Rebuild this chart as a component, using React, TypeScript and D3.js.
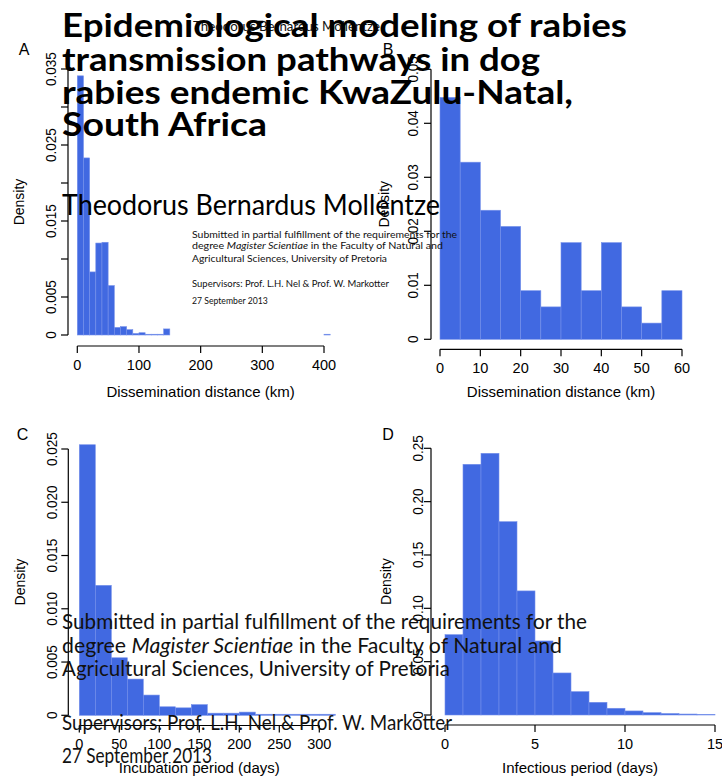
import React from "react";
import * as d3 from "d3";

// ---------- data ----------
const distanceBreaks = [0, 10, 20, 30, 40, 50, 60, 70, 80, 90, 100, 110, 120, 130, 140, 150, 160, 170, 180, 190, 200, 210, 220, 230, 240, 250, 260, 270, 280, 290, 300, 310, 320, 330, 340, 350, 360, 370, 380, 390, 400, 410, 420];
const distanceDensity = [0.0341, 0.0233, 0.0083, 0.0121, 0.0122, 0.0065, 0.0010, 0.0011, 0.0007, 0.0002, 0.0003, 0.0001, 0.0001, 0.0001, 0.0008, 0, 0, 0, 0, 0, 0, 0, 0, 0, 0, 0, 0, 0, 0, 0, 0, 0, 0, 0, 0, 0, 0, 0, 0, 0, 0.0001, 0];

const localBreaks = [0, 5, 10, 15, 20, 25, 30, 35, 40, 45, 50, 55, 60];
const localDensity = [0.0448, 0.0328, 0.0239, 0.0209, 0.0090, 0.0060, 0.0179, 0.0090, 0.0179, 0.0060, 0.0030, 0.0090];

const incubationBreaks = [0, 20, 40, 60, 80, 100, 120, 140, 160, 180, 200, 220, 240, 260, 280, 300, 320];
const incubationDensity = [0.0254, 0.0122, 0.0054, 0.0034, 0.0019, 0.0008, 0.0007, 0.0010, 0.0002, 0.0002, 0.0003, 0.0001, 0.0001, 0.0001, 0.0001, 0.0001];

const infectiousBreaks = [0, 1, 2, 3, 4, 5, 6, 7, 8, 9, 10, 11, 12, 13, 14, 15];
const infectiousDensity = [0.0753, 0.2350, 0.2453, 0.1812, 0.1163, 0.0694, 0.0394, 0.0219, 0.0119, 0.0063, 0.0038, 0.0022, 0.0014, 0.0009, 0.0005];

const xTicksA = [0, 100, 200, 300, 400];
const yTicksA = [0, 0.005, 0.01, 0.015, 0.02, 0.025, 0.03, 0.035];
const yLabelsA = ["0", "0.005", "", "0.015", "", "0.025", "", "0.035"];
const xTicksB = [0, 10, 20, 30, 40, 50, 60];
const yTicksB = [0, 0.01, 0.02, 0.03, 0.04, 0.05];
const yLabelsB = ["0", "0.01", "0.02", "0.03", "0.04", "0.05"];
const xTicksC = [0, 50, 100, 150, 200, 250, 300];
const yTicksC = [0, 0.005, 0.01, 0.015, 0.02, 0.025];
const yLabelsC = ["0", "0.005", "0.010", "0.015", "0.020", "0.025"];
const xTicksD = [0, 5, 10, 15];
const yTicksD = [0, 0.05, 0.1, 0.15, 0.2, 0.25];
const yLabelsD = ["0", "0.05", "0.10", "0.15", "0.20", "0.25"];

const titleLines = ["Epidemiological modeling of rabies", "transmission pathways in dog", "rabies endemic KwaZulu-Natal,", "South Africa"];
const authorName = "Theodorus Bernardus Mollentze";
const submissionLines = [
  [{ t: "Submitted in partial fulfillment of the requirements for the", i: false }],
  [{ t: "degree ", i: false }, { t: "Magister Scientiae", i: true }, { t: " in the Faculty of Natural and", i: false }],
  [{ t: "Agricultural Sciences, University of Pretoria", i: false }],
];
const supervisorsLine = "Supervisors: Prof. L.H. Nel & Prof. W. Markotter";
const dateLine = "27 September 2013";

// ---------- styling ----------
const RFONT = "'Liberation Sans', Arial, Helvetica, sans-serif";
const TFONT = "Lato, 'Open Sans', 'DejaVu Sans', sans-serif";
const FILL = "#4169E1";
const EDGE = "#7590ea";

function Panel(p: any) {
  const x = d3.scaleLinear().domain(p.xDomain).range(p.xRange);
  const y = d3.scaleLinear().domain(p.yDomain).range(p.yRange);
  const tick = 7;
  const yMid = (p.yRange[0] + p.yRange[1]) / 2;
  const xMid = (x(p.xTicks[0]) + x(p.xTicks[p.xTicks.length - 1])) / 2;
  return (
    <g>
      {p.density.map((d: number, i: number) => (
        <rect key={i} x={x(p.breaks[i])} y={y(d)} width={x(p.breaks[i + 1]) - x(p.breaks[i])}
          height={Math.max(0, y(0) - y(d))} fill={FILL} stroke={EDGE} strokeWidth={0.6} />
      ))}
      {/* x axis */}
      <line x1={x(p.xTicks[0])} x2={x(p.xTicks[p.xTicks.length - 1])} y1={p.axisY} y2={p.axisY} stroke="#000" strokeWidth={1.2} />
      {p.xTicks.map((t: number) => (
        <g key={t}>
          <line x1={x(t)} x2={x(t)} y1={p.axisY} y2={p.axisY + tick} stroke="#000" strokeWidth={1.2} />
          <text x={x(t)} y={p.xLabelY} textAnchor="middle" fontFamily={RFONT} fontSize={14.5}>{t}</text>
        </g>
      ))}
      <text x={xMid} y={p.xTitleY} textAnchor="middle" fontFamily={RFONT} fontSize={15}>{p.xTitle}</text>
      {/* y axis */}
      <line x1={p.axisX} x2={p.axisX} y1={y(p.yTicks[0])} y2={y(p.yTicks[p.yTicks.length - 1])} stroke="#000" strokeWidth={1.2} />
      {p.yTicks.map((t: number, i: number) => (
        <g key={i}>
          <line x1={p.axisX} x2={p.axisX - tick} y1={y(t)} y2={y(t)} stroke="#000" strokeWidth={1.2} />
          {p.yLabels[i] ? (
            <text transform={`translate(${p.yLabelX},${y(t)}) rotate(-90) scale(1,1.15)`} textAnchor="middle"
              fontFamily={RFONT} fontSize={13.5}>{p.yLabels[i]}</text>
          ) : null}
        </g>
      ))}
      <text transform={`translate(${p.densityX},${yMid}) rotate(-90) scale(1,1.1)`} textAnchor="middle"
        fontFamily={RFONT} fontSize={14}>Density</text>
      <text x={p.letter[0]} y={p.letter[1]} textAnchor="middle" fontFamily={RFONT} fontSize={16}>{p.letterText}</text>
    </g>
  );
}

function Submission(props: { x: number; ys: number[]; widths: number[]; size: number }) {
  const { x, ys, widths, size } = props;
  return (
    <g fontFamily={TFONT} fontSize={size} fill="#111">
      {submissionLines.map((line, i) => (
        <text key={i} x={x} y={ys[i]} textLength={widths[i]} lengthAdjust="spacingAndGlyphs">
          {line.map((s, j) => (
            <tspan key={j} fontStyle={s.i ? "italic" : "normal"}>{s.t}</tspan>
          ))}
        </text>
      ))}
      <text x={x} y={ys[3]} textLength={widths[3]} lengthAdjust="spacingAndGlyphs">{supervisorsLine}</text>
      <text x={x} y={ys[4]} textLength={widths[4]} lengthAdjust="spacingAndGlyphs">{dateLine}</text>
    </g>
  );
}

export default function App() {
  const titleYs = [37, 71, 104, 136];
  const titleWidths = [565, 478, 511, 205];
  return (
    <svg width={722} height={780} style={{ position: "absolute", left: 0, top: 0, background: "#fff" }}>
      <rect x={0} y={0} width={722} height={780} fill="#fff" />
      <Panel breaks={distanceBreaks} density={distanceDensity} xDomain={[0, 400]} xRange={[77.3, 324]}
        yDomain={[0, 0.035]} yRange={[335, 69]} xTicks={xTicksA} yTicks={yTicksA} yLabels={yLabelsA}
        axisY={346} xLabelY={370} xTitleY={396.5} xTitle="Dissemination distance (km)" axisX={68}
        yLabelX={55.5} densityX={24} letter={[24, 55]} letterText="A" />
      <Panel breaks={localBreaks} density={localDensity} xDomain={[0, 60]} xRange={[440, 682]}
        yDomain={[0, 0.05]} yRange={[339.3, 69.3]} xTicks={xTicksB} yTicks={yTicksB} yLabels={yLabelsB}
        axisY={349.3} xLabelY={372.5} xTitleY={397} xTitle="Dissemination distance (km)" axisX={431}
        yLabelX={418.3} densityX={389} letter={[388, 55]} letterText="B" />
      <Panel breaks={incubationBreaks} density={incubationDensity} xDomain={[0, 300]} xRange={[79.3, 319.3]}
        yDomain={[0, 0.025]} yRange={[715.3, 449]} xTicks={xTicksC} yTicks={yTicksC} yLabels={yLabelsC}
        axisY={725.5} xLabelY={748.5} xTitleY={773} xTitle="Incubation period (days)" axisX={68.3}
        yLabelX={56.7} densityX={25} letter={[22.5, 440]} letterText="C" />
      <Panel breaks={infectiousBreaks} density={infectiousDensity} xDomain={[0, 15]} xRange={[445, 715]}
        yDomain={[0, 0.25]} yRange={[715, 448.3]} xTicks={xTicksD} yTicks={yTicksD} yLabels={yLabelsD}
        axisY={725} xLabelY={748.5} xTitleY={773} xTitle="Infectious period (days)" axisX={431}
        yLabelX={423.3} densityX={390.5} letter={[388, 440]} letterText="D" />

      {/* overlaid title page */}
      <text x={193} y={30.5} fontFamily={TFONT} fontSize={13.5} fill="#111" textLength={187} lengthAdjust="spacingAndGlyphs">{authorName}</text>
      <g fontFamily={TFONT} fontWeight={700} fontSize={32} fill="#000">
        {titleLines.map((l, i) => (
          <text key={i} x={62} y={titleYs[i]} textLength={titleWidths[i]} lengthAdjust="spacingAndGlyphs">{l}</text>
        ))}
      </g>
      <text x={62} y={215} fontFamily={TFONT} fontSize={28} fill="#000" textLength={378} lengthAdjust="spacingAndGlyphs">{authorName}</text>
      <Submission x={192} ys={[237.5, 249.3, 261.5, 287, 304]} widths={[265, 251, 195, 197, 75.7]} size={10.3} />
      <Submission x={62} ys={[629, 653, 676, 730, 763]} widths={[525, 500, 388, 390, 150]} size={21} />
    </svg>
  );
}
